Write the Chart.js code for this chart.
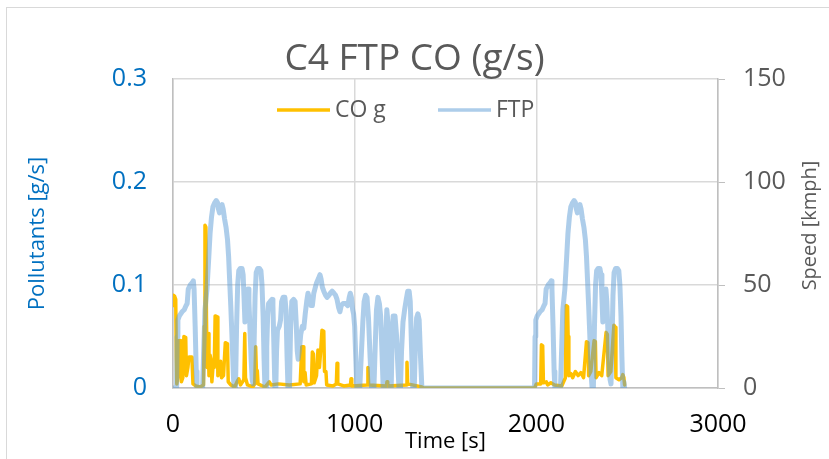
<!DOCTYPE html>
<html lang="en">
<head>
<meta charset="utf8" />
<title>C4 FTP CO</title>
<script src="https://cdn.jsdelivr.net/npm/chart.js@4.4.1/dist/chart.umd.min.js"></script>
<style>
    html, body { margin: 0; padding: 0; background: #fff; overflow: hidden; }
    #frame {
        position: absolute; left: 6px; top: 7px; width: 900px; height: 500px;
        border: 1px solid #d9d9d9; pointer-events: none;
    }
    canvas { position: absolute; left: 0; top: 0; }
</style>
</head>
<body>
<div id="frame"></div>
<canvas id="coChart" width="829" height="459"></canvas>
<script>
// FTP drive trace [time s, speed km/h]: cold start, transient, hot start
const ftpColdStart = [
    [0,0],[20,0],[23,25],[27,33],[35,35],[50,37],[62,38],[72,40],[78,41],[84,48],[95,50],[105,51],
    [112,52],[116,48],[122,30],[128,8],[132,0],[163,0],[168,15],[176,38],[187,48],[196,62],[204,75],
    [212,83],[220,88],[230,90],[238,91],[245,90],[250,87],[256,85],[262,88],[270,89],[276,87],[284,82],
    [292,78],[300,72],[306,64],[312,52],[318,40],[326,22],[333,5],[337,0],[344,0],[350,30],[356,50],
    [362,57],[370,58],[380,58],[386,55],[391,44],[396,32],[402,38],[408,46],[413,48],[418,42],[424,28],
    [430,14],[436,4],[441,2],[446,20],[452,45],[458,56],[466,58],[476,58],[484,57],[490,50],[496,35],
    [501,15],[506,0]
];
const ftpTransient = [
    [512,0],[516,20],[521,35],[526,41],[535,42],[545,43],[550,40],[555,22],[561,0],[566,0],[570,18],
    [575,28],[585,30],[592,33],[598,42],[606,44],[616,44],[622,38],[628,15],[633,0],[641,0],[647,28],
    [654,42],[664,43],[672,42],[678,32],[684,18],[689,14],[695,18],[703,26],[712,30],[720,29],[728,36],
    [736,42],[743,46],[752,43],[760,40],[767,40],[775,46],[781,48],[790,51],[800,53],[809,55],[815,53],
    [822,49],[830,47],[840,45],[848,44],[858,45],[866,46],[876,47],[886,46],[895,45],[903,43],[912,39],
    [919,37],[926,40],[936,41],[950,41],[962,40],[970,44],[976,46],[982,44],[989,38],[994,36],[1000,30],
    [1006,15],[1012,0],[1028,0],[1036,15],[1045,32],[1052,42],[1060,45],[1068,44],[1076,34],[1085,15],
    [1093,0],[1106,0],[1113,20],[1120,38],[1128,44],[1136,41],[1143,35],[1150,18],[1157,0],[1164,0],
    [1170,22],[1177,38],[1183,32],[1189,14],[1194,0],[1201,0],[1206,22],[1212,35],[1222,35],[1230,26],
    [1238,10],[1244,0],[1252,0],[1258,18],[1266,32],[1275,38],[1284,43],[1292,47],[1300,47],[1306,42],
    [1313,20],[1320,0],[1328,0],[1334,20],[1341,34],[1348,36],[1355,33],[1362,16],[1370,0],[1970,0]
];
const ftpHotStart = [
    [1990,0],[1993,25],[1997,33],[2005,35],[2020,37],[2032,38],[2042,40],[2048,41],[2054,48],[2065,50],
    [2075,51],[2082,52],[2086,48],[2092,30],[2098,8],[2102,0],[2133,0],[2138,15],[2146,38],[2157,48],
    [2166,62],[2174,75],[2182,83],[2190,88],[2200,90],[2208,91],[2215,90],[2220,87],[2226,85],[2232,88],
    [2240,89],[2246,87],[2254,82],[2262,78],[2270,72],[2276,64],[2282,52],[2288,40],[2296,22],[2303,5],
    [2307,0],[2314,0],[2320,30],[2326,50],[2332,57],[2340,58],[2350,58],[2356,55],[2361,44],[2366,32],
    [2372,38],[2378,46],[2383,48],[2388,42],[2394,28],[2400,14],[2406,4],[2411,2],[2416,20],[2422,45],
    [2428,56],[2436,58],[2446,58],[2454,57],[2460,50],[2466,35],[2471,15],[2476,0],[2482,3],[2486,0]
];

// CO emission rate [time s, g/s]
const coColdStart = [
    [0,0.08],[3,0.09],[9,0.089],[15,0.086],[18,0.03],[21,0.004],[28,0.012],[34,0.046],[42,0.046],
    [46,0.006],[54,0.01],[60,0.05],[70,0.049],[74,0.012],[82,0.02],[88,0.03],[104,0.03],[110,0.004],
    [125,0.002],[150,0.001],[168,0.003],[172,0.06],[176,0.158],[181,0.156],[184,0.07],[188,0.02],
    [193,0.053],[198,0.012],[204,0.032],[210,0.027],[214,0.006],[220,0.02],[227,0.02],[232,0.07],
    [243,0.069],[247,0.012],[256,0.016],[262,0.026],[267,0.01],[278,0.012],[288,0.044],[300,0.043],
    [304,0.006],[318,0.003],[340,0.001],[352,0.006],[362,0.009],[372,0.003],[390,0.008],[395,0.053],
    [399,0.01],[410,0.003],[440,0.001],[450,0.004],[455,0.04],[459,0.017],[464,0.017],[468,0.004],
    [505,0.001]
];
const coTransient = [
    [512,0.002],[530,0.006],[540,0.003],[580,0.004],[640,0.003],[700,0.004],[709,0.04],[716,0.04],
    [720,0.006],[727,0.015],[733,0.003],[762,0.004],[767,0.035],[773,0.033],[777,0.005],[790,0.012],
    [798,0.037],[806,0.02],[813,0.036],[820,0.056],[830,0.055],[834,0.016],[842,0.016],[846,0.003],
    [880,0.002],[899,0.004],[903,0.024],[907,0.004],[940,0.002],[977,0.003],[980,0.009],[984,0.002],
    [1069,0.003],[1073,0.02],[1077,0.003],[1175,0.002],[1178,0.006],[1182,0.002],[1285,0.003],
    [1288,0.025],[1292,0.004],[1370,0.001],[1380,0],[1970,0]
];
const coHotStart = [
    [1990,0],[2000,0.004],[2024,0.004],[2028,0.042],[2035,0.041],[2039,0.005],[2055,0.006],[2062,0.003],
    [2080,0.005],[2100,0.003],[2140,0.002],[2160,0.01],[2165,0.08],[2172,0.079],[2175,0.05],[2179,0.012],
    [2190,0.014],[2200,0.01],[2215,0.016],[2230,0.012],[2245,0.015],[2260,0.01],[2276,0.045],[2284,0.044],
    [2288,0.012],[2300,0.016],[2318,0.046],[2325,0.045],[2329,0.01],[2345,0.015],[2360,0.012],[2384,0.054],
    [2391,0.052],[2395,0.012],[2410,0.016],[2427,0.061],[2434,0.059],[2438,0.01],[2455,0.008],[2470,0.01],
    [2476,0.013],[2482,0.01],[2486,0.003]
];

const FONT = '"Open Sans", sans-serif';
const GREY = '#595959';
const BLUE = '#0070C0';

const toPoints = rows => rows.map(([x, y]) => ({ x, y }));
const ftpPoints = toPoints([...ftpColdStart, ...ftpTransient, ...ftpHotStart]);
const coPoints = toPoints([...coColdStart, ...coTransient, ...coHotStart]);
const plain = v => String(Math.round(v * 1000) / 1000);

// legend sits inside the plot, right axis title reads bottom-to-top
const extras = {
    id: 'extras',
    afterDraw(chart) {
        const { ctx, chartArea } = chart;
        ctx.save();
        ctx.font = '23px ' + FONT;
        ctx.textBaseline = 'middle';
        const y = chartArea.top + 31;
        const items = [
            { ds: chart.data.datasets[0], x: 277 },
            { ds: chart.data.datasets[1], x: 438 }
        ];
        items.forEach(({ ds, x }) => {
            ctx.strokeStyle = ds.borderColor;
            ctx.lineWidth = 3.5;
            ctx.beginPath();
            ctx.moveTo(x, y);
            ctx.lineTo(x + 53, y);
            ctx.stroke();
            ctx.fillStyle = GREY;
            ctx.fillText(ds.label, x + 58, y);
        });

        ctx.translate(810, (chartArea.top + chartArea.bottom) / 2 - 8);
        ctx.rotate(-Math.PI / 2);
        ctx.textAlign = 'center';
        ctx.font = '20px ' + FONT;
        ctx.fillStyle = GREY;
        ctx.fillText('Speed [kmph]', 0, 0);
        ctx.restore();
    }
};

new Chart(document.getElementById('coChart'), {
    type: 'line',
    data: {
        datasets: [
            {
                label: 'CO g',
                data: coPoints,
                borderColor: '#FFC000',
                borderWidth: 3.5,
                yAxisID: 'y',
                order: 1
            },
            {
                label: 'FTP',
                data: ftpPoints,
                borderColor: 'rgba(91, 155, 213, 0.5)',
                borderWidth: 5,
                yAxisID: 'y1',
                order: 0
            }
        ]
    },
    options: {
        responsive: false,
        animation: false,
        devicePixelRatio: 1,
        elements: {
            point: { radius: 0 },
            line: { tension: 0, borderJoinStyle: 'round', borderCapStyle: 'round' }
        },
        layout: { padding: 0 },
        scales: {
            x: {
                type: 'linear',
                min: 0,
                max: 3000,
                afterFit: s => { s.height = 71; },
                ticks: { stepSize: 1000, color: '#000', padding: 22, callback: plain, font: { family: FONT, size: 25 } },
                grid: { color: '#d9d9d9', lineWidth: 1.5, drawTicks: false },
                border: { color: '#bfbfbf', width: 1.5 },
                title: {
                    display: true, text: 'Time [s]', color: '#000',
                    font: { family: FONT, size: 22, lineHeight: 1 }, padding: { top: 0, bottom: 6 }
                }
            },
            y: {
                position: 'left',
                min: 0,
                max: 0.3,
                afterFit: s => { s.width = 173; },
                ticks: { stepSize: 0.1, color: BLUE, padding: 26, callback: plain, font: { family: FONT, size: 25 } },
                grid: { color: '#d9d9d9', lineWidth: 1.5, drawTicks: false },
                border: { color: '#bfbfbf', width: 1.5 },
                title: {
                    display: true, text: 'Pollutants [g/s]', color: BLUE,
                    font: { family: FONT, size: 22, lineHeight: 1 }, padding: { top: 27, bottom: 0 }
                }
            },
            y1: {
                position: 'right',
                min: 0,
                max: 150,
                afterFit: s => { s.width = 111; },
                ticks: { stepSize: 50, color: GREY, padding: 18, callback: plain, font: { family: FONT, size: 25 } },
                grid: { drawOnChartArea: false, color: '#bfbfbf', tickLength: 7 },
                border: { color: '#bfbfbf', width: 1.5 }
            }
        },
        plugins: {
            legend: { display: false },
            tooltip: { enabled: false },
            title: {
                display: true,
                text: 'C4 FTP CO (g/s)',
                color: GREY,
                font: { family: FONT, size: 37, weight: 'normal', lineHeight: 1 },
                padding: { top: 41, bottom: 1 }
            }
        }
    },
    plugins: [extras]
});
</script>
</body>
</html>
